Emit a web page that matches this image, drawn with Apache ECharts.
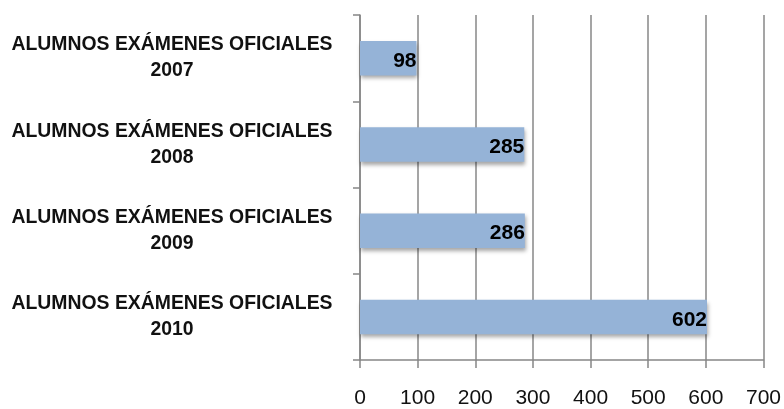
<!DOCTYPE html>
<html>
<head>
<meta charset="utf-8">
<script src="https://cdn.jsdelivr.net/npm/echarts@6/dist/echarts.min.js"></script>
<style>
  html, body { margin: 0; padding: 0; background: #ffffff; }
  #chart { width: 784px; height: 409px; }
</style>
</head>
<body>
<div id="chart"></div>
<script>
// datos
const categories = [
  "ALUMNOS EXÁMENES OFICIALES\n2007",
  "ALUMNOS EXÁMENES OFICIALES\n2008",
  "ALUMNOS EXÁMENES OFICIALES\n2009",
  "ALUMNOS EXÁMENES OFICIALES\n2010"
];
const alumnos = [98, 285, 286, 602];

const myChart = echarts.init(document.getElementById("chart"));
const gris = "#878787";
const option = {
  animation: false,
  grid: {
    left: 360,
    right: 20,
    top: 15,
    bottom: 48,
    containLabel: false
  },
  xAxis: {
    type: "value",
    min: 0,
    max: 700,
    interval: 100,
    axisLine: { show: true, lineStyle: { color: gris, width: 1.5 } },
    axisTick: { show: true, length: 8, lineStyle: { color: gris, width: 1.5 } },
    splitLine: { show: true, lineStyle: { color: gris, width: 1.5 } },
    axisLabel: {
      margin: 28,
      color: "#111",
      fontSize: 21,
      fontFamily: "Liberation Sans"
    }
  },
  yAxis: {
    type: "category",
    inverse: true,
    data: categories,
    axisLine: { show: true, lineStyle: { color: gris, width: 1.5 } },
    axisTick: { show: true, length: 7, lineStyle: { color: gris, width: 1.5 } },
    axisLabel: {
      align: "center",
      margin: 188,
      color: "#111",
      fontSize: 19.4,
      fontWeight: "bold",
      lineHeight: 26,
      fontFamily: "Liberation Sans",
      padding: [3, 0, 0, 0]
    }
  },
  series: [
    {
      type: "bar",
      data: alumnos,
      barWidth: "40%",
      itemStyle: {
        color: "#95b3d7",
        shadowColor: "rgba(0,0,0,0.35)",
        shadowBlur: 4,
        shadowOffsetY: 3,
        shadowOffsetX: 1
      },
      label: {
        show: true,
        position: "insideRight",
        distance: 0,
        color: "#000",
        fontSize: 21,
        fontWeight: "bold",
        fontFamily: "Liberation Sans",
        offset: [0, 3]
      }
    }
  ]
};
myChart.setOption(option);
</script>
</body>
</html>
